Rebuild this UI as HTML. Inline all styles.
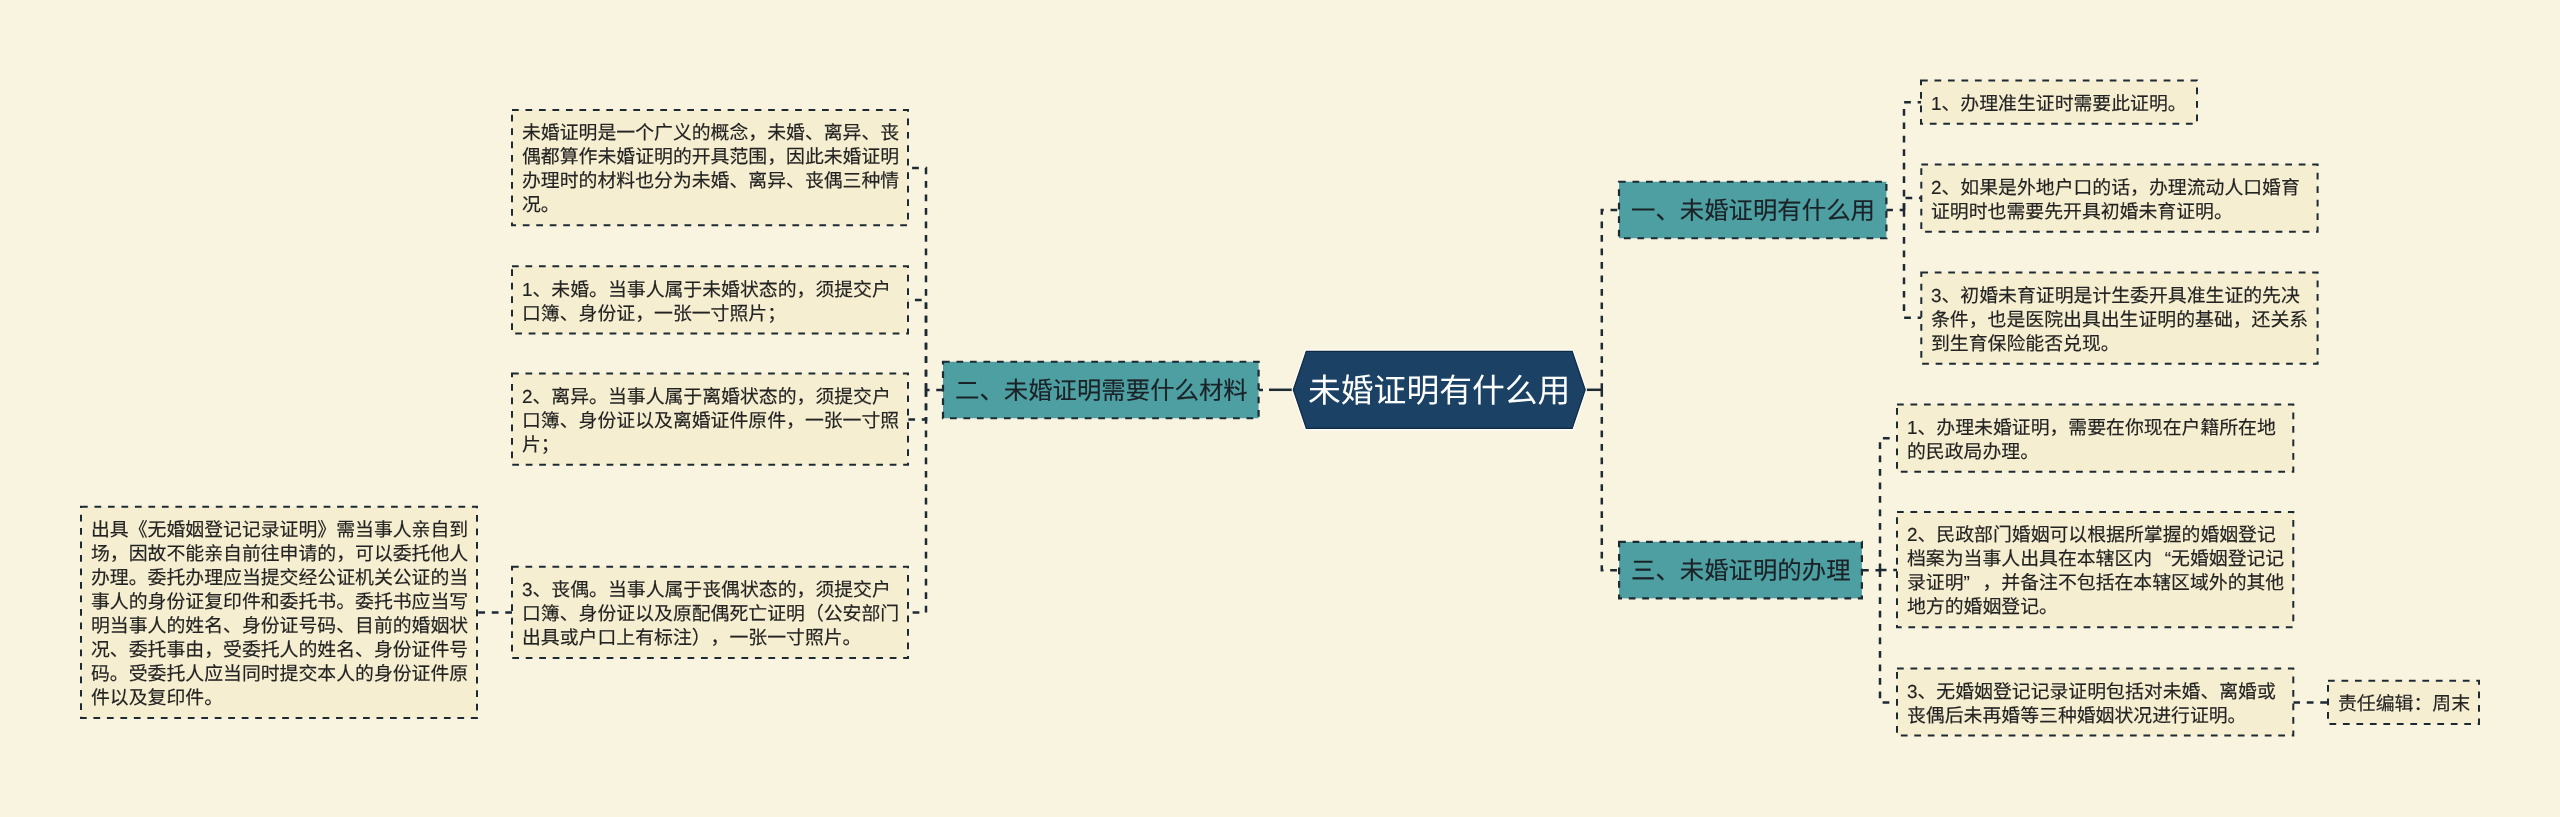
<!DOCTYPE html>
<html lang="zh-CN"><head><meta charset="utf-8"><title>未婚证明有什么用</title>
<style>
html,body{margin:0;padding:0;width:2560px;height:817px;overflow:hidden;background:#f9f4e0;}
body{position:relative;font-family:"Liberation Sans",sans-serif;text-rendering:geometricPrecision;text-spacing-trim:space-all;-webkit-font-smoothing:antialiased;}
svg{position:absolute;left:0;top:0;}
.t{position:absolute;will-change:transform;font-size:18.88px;line-height:24px;color:#222222;white-space:nowrap;-webkit-text-stroke:0.15px #222222;}
.qo{display:inline-block;width:1em;text-align:right;}
.qc{display:inline-block;width:1em;text-align:left;}
.tp{position:absolute;will-change:transform;font-size:24.4px;color:#1b2227;white-space:nowrap;-webkit-text-stroke:0.15px #1b2227;}
.rt{position:absolute;will-change:transform;font-size:32.8px;color:#ffffff;white-space:nowrap;}
</style></head><body>
<svg width="2560" height="817" viewBox="0 0 2560 817">
<line x1="1269" y1="389.8" x2="1294" y2="389.8" stroke="#1d2a34" stroke-width="2.5"/>
<line x1="1259" y1="390" x2="1263" y2="390" stroke="#1d2a34" stroke-width="2.5" stroke-dasharray="6.5 7"/>
<path d="M943,390 H926" fill="none" stroke="#1d2a34" stroke-width="2.5" stroke-dasharray="6.74 6.74" stroke-linejoin="miter"/>
<path d="M926,390 V168 H908" fill="none" stroke="#1d2a34" stroke-width="2.5" stroke-dasharray="6.74 6.74" stroke-linejoin="miter"/>
<path d="M926,390 V300 H908" fill="none" stroke="#1d2a34" stroke-width="2.5" stroke-dasharray="6.74 6.74" stroke-linejoin="miter"/>
<path d="M926,390 V419.5 H908" fill="none" stroke="#1d2a34" stroke-width="2.5" stroke-dasharray="6.74 6.74" stroke-linejoin="miter"/>
<path d="M926,390 V612.5 H908" fill="none" stroke="#1d2a34" stroke-width="2.5" stroke-dasharray="6.74 6.74" stroke-linejoin="miter"/>
<path d="M512,612.5 H477" fill="none" stroke="#1d2a34" stroke-width="2.5" stroke-dasharray="6.74 6.74" stroke-linejoin="miter"/>
<line x1="1584" y1="389.8" x2="1602" y2="389.8" stroke="#1d2a34" stroke-width="2.5"/>
<path d="M1601.8,390 V210 H1619" fill="none" stroke="#1d2a34" stroke-width="2.5" stroke-dasharray="6.74 6.74" stroke-linejoin="miter"/>
<path d="M1601.8,390 V570.3 H1619" fill="none" stroke="#1d2a34" stroke-width="2.5" stroke-dasharray="6.74 6.74" stroke-linejoin="miter"/>
<path d="M1886.2,210 H1904" fill="none" stroke="#1d2a34" stroke-width="2.5" stroke-dasharray="6.74 6.74" stroke-linejoin="miter"/>
<path d="M1904,210 V102.3 H1921" fill="none" stroke="#1d2a34" stroke-width="2.5" stroke-dasharray="6.74 6.74" stroke-linejoin="miter"/>
<path d="M1904,210 V198 H1921.3" fill="none" stroke="#1d2a34" stroke-width="2.5" stroke-dasharray="6.74 6.74" stroke-linejoin="miter"/>
<path d="M1904,210 V317.7 H1921.3" fill="none" stroke="#1d2a34" stroke-width="2.5" stroke-dasharray="6.74 6.74" stroke-linejoin="miter"/>
<path d="M1862,570.2 H1880" fill="none" stroke="#1d2a34" stroke-width="2.5" stroke-dasharray="6.74 6.74" stroke-linejoin="miter"/>
<path d="M1880,570.2 V438.3 H1897" fill="none" stroke="#1d2a34" stroke-width="2.5" stroke-dasharray="6.74 6.74" stroke-linejoin="miter"/>
<path d="M1880,570.2 V570 H1897" fill="none" stroke="#1d2a34" stroke-width="2.5" stroke-dasharray="6.74 6.74" stroke-linejoin="miter"/>
<path d="M1880,570.2 V702.4 H1897" fill="none" stroke="#1d2a34" stroke-width="2.5" stroke-dasharray="6.74 6.74" stroke-linejoin="miter"/>
<path d="M2293.3,702.4 H2328" fill="none" stroke="#1d2a34" stroke-width="2.5" stroke-dasharray="6.74 6.74" stroke-linejoin="miter"/>
<rect x="512" y="110" width="396" height="115.2" fill="#f5eed0" stroke="#1d2a34" stroke-width="2" stroke-dasharray="6.74 6.74"/>
<rect x="512" y="266.3" width="396" height="67.2" fill="#f5eed0" stroke="#1d2a34" stroke-width="2" stroke-dasharray="6.74 6.74"/>
<rect x="512" y="373.5" width="396" height="91.2" fill="#f5eed0" stroke="#1d2a34" stroke-width="2" stroke-dasharray="6.74 6.74"/>
<rect x="512" y="566.7" width="396" height="91.2" fill="#f5eed0" stroke="#1d2a34" stroke-width="2" stroke-dasharray="6.74 6.74"/>
<rect x="81" y="506.7" width="396" height="211.2" fill="#f5eed0" stroke="#1d2a34" stroke-width="2" stroke-dasharray="6.74 6.74"/>
<rect x="1921" y="80.5" width="276" height="43.2" fill="#f5eed0" stroke="#1d2a34" stroke-width="2" stroke-dasharray="6.74 6.74"/>
<rect x="1921.3" y="164.6" width="396.29999999999995" height="67.2" fill="#f5eed0" stroke="#1d2a34" stroke-width="2" stroke-dasharray="6.74 6.74"/>
<rect x="1921.3" y="272.5" width="396.29999999999995" height="91.2" fill="#f5eed0" stroke="#1d2a34" stroke-width="2" stroke-dasharray="6.74 6.74"/>
<rect x="1897" y="404.5" width="396.3000000000002" height="67.2" fill="#f5eed0" stroke="#1d2a34" stroke-width="2" stroke-dasharray="6.74 6.74"/>
<rect x="1897" y="512" width="396.3000000000002" height="115.2" fill="#f5eed0" stroke="#1d2a34" stroke-width="2" stroke-dasharray="6.74 6.74"/>
<rect x="1897" y="668.4" width="396.3000000000002" height="67.2" fill="#f5eed0" stroke="#1d2a34" stroke-width="2" stroke-dasharray="6.74 6.74"/>
<rect x="2328" y="680.8" width="151" height="43.2" fill="#f5eed0" stroke="#1d2a34" stroke-width="2" stroke-dasharray="6.74 6.74"/>
<rect x="943" y="361.75" width="315.5999999999999" height="56.5" fill="#4e9fa1" stroke="#1d2a34" stroke-width="2.2" stroke-dasharray="6.74 6.74"/>
<rect x="1619" y="181.75" width="267.4000000000001" height="56.5" fill="#4e9fa1" stroke="#1d2a34" stroke-width="2.2" stroke-dasharray="6.74 6.74"/>
<rect x="1619.1" y="541.85" width="242.80000000000018" height="56.5" fill="#4e9fa1" stroke="#1d2a34" stroke-width="2.2" stroke-dasharray="6.74 6.74"/>
<polygon points="1293.3,389.8 1306.3,351.3 1572.2,351.3 1585.2,389.8 1572.2,428.4 1306.3,428.4" fill="none" stroke="#ffffff" stroke-width="3.5"/>
<polygon points="1293.3,389.8 1306.3,351.3 1572.2,351.3 1585.2,389.8 1572.2,428.4 1306.3,428.4" fill="#1b4165" stroke="#102a42" stroke-width="1.2"/>
</svg>
<div class="t" style="left:521.5px;top:121.4px">未婚证明是一个广义的概念，未婚、离异、丧<br>偶都算作未婚证明的开具范围，因此未婚证明<br>办理时的材料也分为未婚、离异、丧偶三种情<br>况。</div>
<div class="t" style="left:521.5px;top:277.7px">1、未婚。当事人属于未婚状态的，须提交户<br>口簿、身份证，一张一寸照片；</div>
<div class="t" style="left:521.5px;top:384.9px">2、离异。当事人属于离婚状态的，须提交户<br>口簿、身份证以及离婚证件原件，一张一寸照<br>片；</div>
<div class="t" style="left:521.5px;top:578.1px">3、丧偶。当事人属于丧偶状态的，须提交户<br>口簿、身份证以及原配偶死亡证明（公安部门<br>出具或户口上有标注），一张一寸照片。</div>
<div class="t" style="left:90.5px;top:518.1px">出具《无婚姻登记记录证明》需当事人亲自到<br>场，因故不能亲自前往申请的，可以委托他人<br>办理。委托办理应当提交经公证机关公证的当<br>事人的身份证复印件和委托书。委托书应当写<br>明当事人的姓名、身份证号码、目前的婚姻状<br>况、委托事由，受委托人的姓名、身份证件号<br>码。受委托人应当同时提交本人的身份证件原<br>件以及复印件。</div>
<div class="t" style="left:1930.5px;top:91.9px">1、办理准生证时需要此证明。</div>
<div class="t" style="left:1930.8px;top:176.0px">2、如果是外地户口的话，办理流动人口婚育<br>证明时也需要先开具初婚未育证明。</div>
<div class="t" style="left:1930.8px;top:283.9px">3、初婚未育证明是计生委开具准生证的先决<br>条件，也是医院出具出生证明的基础，还关系<br>到生育保险能否兑现。</div>
<div class="t" style="left:1906.5px;top:415.9px">1、办理未婚证明，需要在你现在户籍所在地<br>的民政局办理。</div>
<div class="t" style="left:1906.5px;top:523.4px">2、民政部门婚姻可以根据所掌握的婚姻登记<br>档案为当事人出具在本辖区内<span class="qo">“</span>无婚姻登记记<br>录证明<span class="qc">”</span>，并备注不包括在本辖区域外的其他<br>地方的婚姻登记。</div>
<div class="t" style="left:1906.5px;top:679.8px">3、无婚姻登记记录证明包括对未婚、离婚或<br>丧偶后未再婚等三种婚姻状况进行证明。</div>
<div class="t" style="left:2337.5px;top:692.1999999999999px">责任编辑：周末</div>
<div class="tp" style="left:955px;top:363.5px;height:56px;line-height:56px">二、未婚证明需要什么材料</div>
<div class="tp" style="left:1631px;top:183.5px;height:56px;line-height:56px">一、未婚证明有什么用</div>
<div class="tp" style="left:1631.1px;top:543.6px;height:56px;line-height:56px">三、未婚证明的办理</div>
<div class="rt" style="left:1308px;top:351px;height:79px;line-height:79px">未婚证明有什么用</div>
</body></html>
